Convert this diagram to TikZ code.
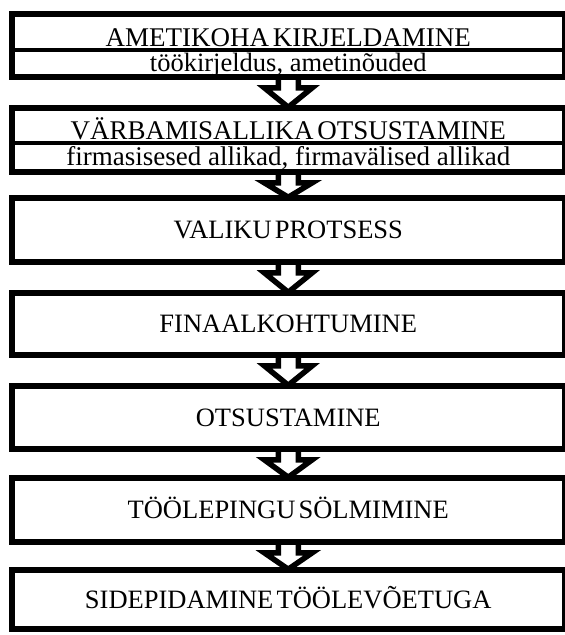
\documentclass[tikz,border=0pt]{standalone}
\usepackage{fontspec}
\setmainfont{Liberation Serif}
\usetikzlibrary{calc}
\newcommand\stagefont{\fontsize{26.5}{30}\selectfont\spaceskip 0.12em\relax}
\newcommand\headfont{\fontsize{27}{30}\selectfont\spaceskip 0.14em\relax}
\newcommand\subfont{\fontsize{26.5}{30}\selectfont}
\tikzset{
  stage/.style={rectangle, draw=black, line width=5.5pt, fill=white,
    minimum width=552.5pt, inner sep=0pt, text height=17.5pt, text depth=0pt,
    font=\stagefont},
  caption/.style={inner sep=0pt, anchor=base, font=\headfont, text depth=0pt},
  subcaption/.style={inner sep=0pt, anchor=base, font=\subfont},
  divider/.style={line width=4pt},
  flowarrow/.style={draw=black, line width=5.5pt, line join=miter, line cap=butt},
}
\newcommand\stepflow[2]{%
  \draw[flowarrow] ($(#1.south)+(-10,0)$) -- ($(#1.south)+(-10,8)$)
    -- ($(#1.south)+(-24,8)$) -- ($(#2.north)+(0,2)$)
    -- ($(#1.south)+(24,8)$) -- ($(#1.south)+(10,8)$) -- ($(#1.south)+(10,0)$);}
\begin{document}
\begin{tikzpicture}[x=1pt,y=-1pt]
\useasboundingbox (0,0) rectangle (565,635);
% boxes
\node[stage, minimum height=63pt] (b1) at (288.25,45.5) {};
\node[stage, minimum height=64pt] (b2) at (288.25,140) {};
\node[stage, minimum height=64pt] (b3) at (288.25,230) {VALIKU PROTSESS};
\node[stage, minimum height=62pt] (b4) at (288.25,324) {FINAALKOHTUMINE};
\node[stage, minimum height=63pt] (b5) at (288.25,417.5) {OTSUSTAMINE};
\node[stage, minimum height=64pt] (b6) at (288.25,510) {TÖÖLEPINGU SÖLMIMINE};
\node[stage, minimum height=59pt] (b7) at (288.25,599.5) {SIDEPIDAMINE TÖÖLEVÕETUGA};
% dividers
\draw[divider] (b1.west |- 0,49.5) -- (b1.east |- 0,49.5);
\draw[divider] (b2.west |- 0,142.5) -- (b2.east |- 0,142.5);
% two-line texts
\node[caption] (t1a) at (288.25,46.5) {AMETIKOHA KIRJELDAMINE};
\node[subcaption] (t1b) at (288.25,71.5) {töökirjeldus, ametinõuded};
\node[caption] (t2a) at (288.25,139.5) {VÄRBAMISALLIKA OTSUSTAMINE};
\node[subcaption, font=\fontsize{27}{30}\selectfont] (t2b) at (288.25,165.5) {firmasisesed allikad, firmavälised allikad};
% arrows
\stepflow{b1}{b2}
\stepflow{b2}{b3}
\stepflow{b3}{b4}
\stepflow{b4}{b5}
\stepflow{b5}{b6}
\stepflow{b6}{b7}
\end{tikzpicture}
\end{document}
